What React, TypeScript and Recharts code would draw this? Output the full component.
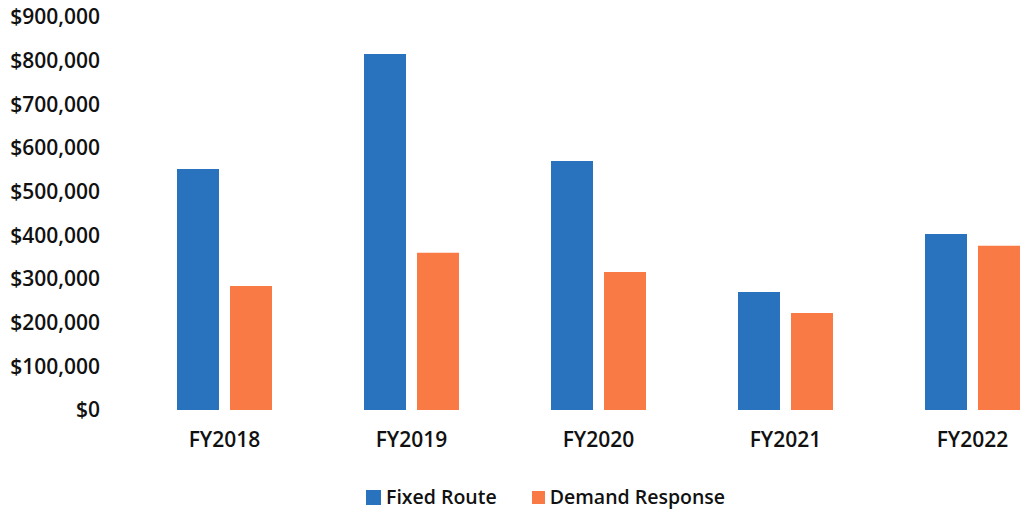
import React from 'react';
import { BarChart, Bar, XAxis, YAxis, Legend } from 'recharts';

const years = ['FY2018', 'FY2019', 'FY2020', 'FY2021', 'FY2022'];
const fixedRoute = [552000, 815000, 570000, 270000, 403000];
const demandResponse = [284000, 360000, 316000, 222000, 376000];
const yTicks = [0, 100000, 200000, 300000, 400000, 500000, 600000, 700000, 800000, 900000];

const BLUE = '#2872BE';
const ORANGE = '#F97A45';
const FONT = '"Open Sans", "Liberation Sans", sans-serif';

const data = years.map((year, i) => ({
  year,
  fixed: fixedRoute[i],
  demand: demandResponse[i],
}));

const money = (v: number) => '$' + v.toLocaleString('en-US');

const LegendContent = () => (
  <div style={{ display: 'flex', alignItems: 'center', fontFamily: FONT, fontSize: 19.5, fontWeight: 600, color: '#111', lineHeight: '26px' }}>
    <span style={{ display: 'inline-block', width: 15, height: 15, background: BLUE, marginRight: 5 }} />
    <span style={{ marginRight: 35 }}>Fixed Route</span>
    <span style={{ display: 'inline-block', width: 13, height: 13, background: ORANGE, marginRight: 5 }} />
    <span>Demand Response</span>
  </div>
);

export default function App() {
  return (
    <div style={{ position: 'fixed', left: 0, top: 0, width: 1028, height: 516, overflow: 'hidden', background: '#fff' }}>
      <BarChart
        width={1080}
        height={516}
        data={data}
        margin={{ top: 17, right: 14, bottom: 30, left: 0 }}
        barSize={42}
        barGap={11}
      >
        <XAxis
          dataKey="year"
          axisLine={false}
          tickLine={false}
          tickSize={0}
          tickMargin={22}
          height={50}
          tick={{ fill: '#111', fontSize: 21, fontFamily: FONT, fontWeight: 600 }}
        />
        <YAxis
          domain={[0, 900000]}
          ticks={yTicks}
          interval={0}
          tickFormatter={money}
          axisLine={false}
          tickLine={false}
          tickSize={0}
          tickMargin={31}
          width={131}
          tick={{ fill: '#111', fontSize: 21, fontFamily: FONT, fontWeight: 600 }}
        />
        <Legend
          content={<LegendContent />}
          wrapperStyle={{ position: 'absolute', left: 366, top: 484, width: 'auto' }}
        />
        <Bar dataKey="fixed" name="Fixed Route" fill={BLUE} isAnimationActive={false} />
        <Bar dataKey="demand" name="Demand Response" fill={ORANGE} isAnimationActive={false} />
      </BarChart>
    </div>
  );
}
